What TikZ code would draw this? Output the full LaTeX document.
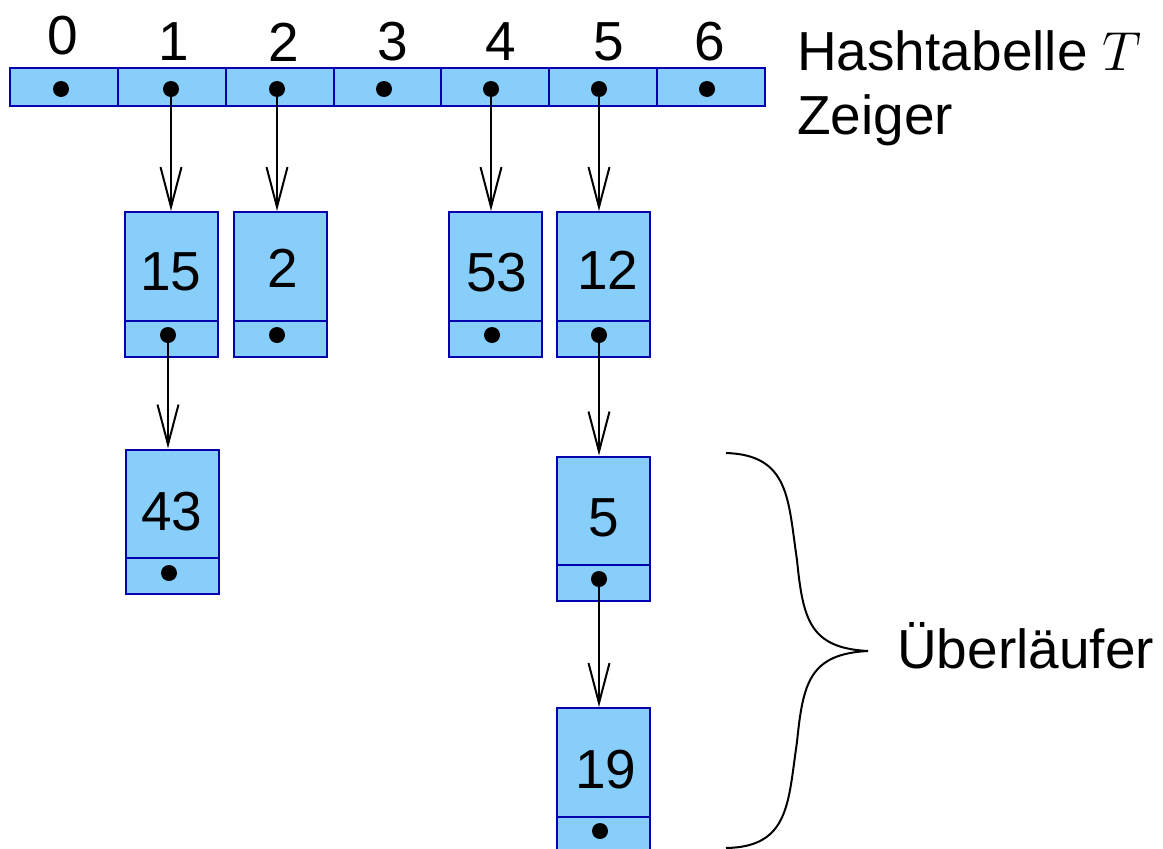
\documentclass[tikz,border=0pt]{standalone}
\usepackage{fix-cm}
\usepackage{fontspec}
\setmainfont{Liberation Sans}
\usetikzlibrary{arrows.meta}
\definecolor{fillc}{RGB}{135,206,250}
\definecolor{bdr}{RGB}{0,0,175}
\tikzset{
  cell/.style={draw=bdr, fill=fillc, line width=2pt, minimum width=107.86pt, minimum height=38pt, inner sep=0pt},
  valpart/.style={draw=bdr, fill=fillc, line width=2pt, minimum width=93pt, minimum height=109pt, inner sep=0pt},
  ptrpart/.style={draw=bdr, fill=fillc, line width=2pt, minimum width=93pt, minimum height=36pt, inner sep=0pt},
  dot/.style={circle, fill=black, inner sep=0pt, minimum size=16pt},
  txt/.style={inner sep=0pt, font=\fontsize{55}{60}\selectfont},
  ptr/.style={line width=2pt, -{Straight Barb[length=40pt,width=21pt,line width=2pt]}},
  brace/.style={line width=2pt}
}
\begin{document}
\begin{tikzpicture}[x=1pt,y=-1pt]
\useasboundingbox (0,0) rectangle (1163,849);
% hash table cells
\foreach \i in {0,...,6}{
  \node[cell] (c\i) at ({10+107.86*(\i+0.5)},87) {};
}
% index labels
\node[txt] (l0) at (63,36) {0};
\node[txt] (l1) at (174,42) {1};
\node[txt] (l2) at (284,42) {2};
\node[txt] (l3) at (393,42) {3};
\node[txt] (l4) at (501,42) {4};
\node[txt] (l5) at (609,42) {5};
\node[txt] (l6) at (710,42) {6};
% titles
\node[txt, anchor=base west] (title) at (797,70) {Hashtabelle $T$};
\node[txt, anchor=base west] (zeiger) at (797,134) {Zeiger};
\node[txt, anchor=base west] (ueber) at (897,668) {Überläufer};
% list boxes
\node[valpart] (b15) at (171.5,266.5) {};
\node[ptrpart] (b15p) at (171.5,339) {};
\node[valpart] (b2) at (280,266.5) {};
\node[ptrpart] (b2p) at (280,339) {};
\node[valpart] (b53) at (495.5,266.5) {};
\node[ptrpart] (b53p) at (495.5,339) {};
\node[valpart] (b12) at (603,266.5) {};
\node[ptrpart] (b12p) at (603,339) {};
\node[valpart] (b43) at (172,504) {};
\node[ptrpart] (b43p) at (172,576) {};
\node[valpart] (b5) at (603,511) {};
\node[ptrpart] (b5p) at (603,583) {};
\node[valpart] (b19) at (603,762.5) {};
\node[ptrpart] (b19p) at (603,835) {};
% values
\node[txt] (t15) at (171,272) {15};
\node[txt] (t2) at (283,268) {2};
\node[txt] (t53) at (497,273) {53};
\node[txt] (t12) at (608,270) {12};
\node[txt] (t43) at (172,512) {43};
\node[txt] (t5) at (604,518) {5};
\node[txt] (t19) at (606,770) {19};
% dots
\node[dot] (d0) at (61,89) {};
\node[dot] (d1) at (171,89) {};
\node[dot] (d2) at (277,89) {};
\node[dot] (d3) at (384,89) {};
\node[dot] (d4) at (491,89) {};
\node[dot] (d5) at (599,89) {};
\node[dot] (d6) at (707,89) {};
\node[dot] (e15) at (168,335) {};
\node[dot] (e2) at (277,335) {};
\node[dot] (e53) at (492,335) {};
\node[dot] (e12) at (599,335) {};
\node[dot] (e43) at (169,573) {};
\node[dot] (e5) at (599,579) {};
\node[dot] (e19) at (600,831) {};
% pointers
\draw[ptr] (d1.center) -- (d1.center |- b15.north);
\draw[ptr] (d2.center) -- (d2.center |- b2.north);
\draw[ptr] (d4.center) -- (d4.center |- b53.north);
\draw[ptr] (d5.center) -- (d5.center |- b12.north);
\draw[ptr] (e15.center) -- (e15.center |- b43.north);
\draw[ptr] (e12.center) -- (e12.center |- b5.north);
\draw[ptr] (e5.center) -- (e5.center |- b19.north);
% brace
\draw[brace] (726,453) .. controls (790,455) and (788,500) .. (797,560)
  .. controls (803,620) and (810,648) .. (868,651)
  .. controls (810,654) and (803,682) .. (797,742)
  .. controls (788,802) and (790,847) .. (726,848);
\end{tikzpicture}
\end{document}
